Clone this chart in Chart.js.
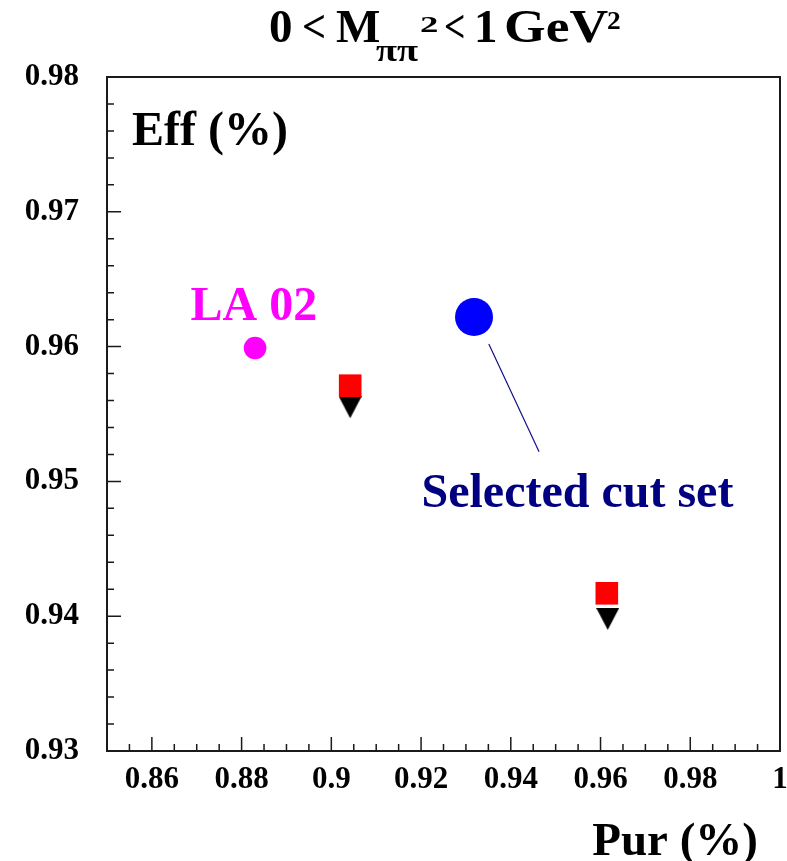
<!DOCTYPE html>
<html>
<head>
<meta charset="utf-8">
<script src="https://cdn.jsdelivr.net/npm/chart.js@4.4.0/dist/chart.umd.min.js"></script>
<style>
  html, body { margin: 0; padding: 0; background: #ffffff; }
  #wrap { width: 787px; height: 861px; }
</style>
</head>
<body>
<div id="wrap"><canvas id="chart" width="787" height="861"></canvas></div>
<script>
// Efficiency vs purity for the candidate cut sets
const la02Pur = [0.8830];
const la02Eff = [0.9599];
const selectedPur = [0.9318];
const selectedEff = [0.9622];
const squarePur = [0.9042, 0.9614];
const squareEff = [0.9571, 0.9417];
const trianglePur = [0.9042, 0.9616];
const triangleEff = [0.9555, 0.9398];
// pointer from the selected cut set to its label
const leaderPur = [0.9351, 0.9463];
const leaderEff = [0.9602, 0.9522];

const xTickValues = [0.86, 0.88, 0.90, 0.92, 0.94, 0.96, 0.98, 1.00];
const xTickLabels = ['0.86', '0.88', '0.9', '0.92', '0.94', '0.96', '0.98', '1'];
const yTickValues = [0.93, 0.94, 0.95, 0.96, 0.97, 0.98];
const yTickLabels = ['0.93', '0.94', '0.95', '0.96', '0.97', '0.98'];

const SERIF = '"Liberation Serif", "Times New Roman", serif';
const TICK_FONT = 'bold 31px ' + SERIF;

const pairs = (xs, ys) => xs.map((x, i) => ({ x, y: ys[i] }));

// downward black triangle marker
function triangleMarker() {
  const c = document.createElement('canvas');
  c.width = 23; c.height = 22;
  const g = c.getContext('2d');
  g.fillStyle = '#000000';
  g.beginPath();
  g.moveTo(0, 0);
  g.lineTo(23, 0);
  g.lineTo(11.5, 22);
  g.closePath();
  g.fill();
  return c;
}

// text drawn with a horizontal stretch factor
function stretchedText(ctx, text, x, y, sx) {
  ctx.save();
  ctx.translate(x, y);
  ctx.scale(sx, 1);
  ctx.fillText(text, 0, 0);
  ctx.restore();
}

const framePlugin = {
  id: 'frameAndText',
  afterDatasetsDraw(chart) {
    const { ctx, chartArea: a, scales } = chart;
    const xs = scales.x, ys = scales.y;
    ctx.save();
    // axis ticks, pointing inward
    ctx.strokeStyle = '#1a1a1a';
    ctx.lineWidth = 1.5;
    ctx.beginPath();
    for (let k = 0; k <= 30; k++) {
      const v = 0.85 + k * 0.005;
      const px = xs.getPixelForValue(v);
      const len = (k % 4 === 2) ? 14 : 7;
      ctx.moveTo(px, a.bottom);
      ctx.lineTo(px, a.bottom - len);
    }
    for (let k = 0; k <= 25; k++) {
      const v = 0.93 + k * 0.002;
      const py = ys.getPixelForValue(v);
      const len = (k % 5 === 0) ? 14 : 7;
      ctx.moveTo(a.left, py);
      ctx.lineTo(a.left + len, py);
    }
    ctx.stroke();
    // frame
    ctx.lineWidth = 2;
    ctx.strokeRect(a.left, a.top, a.right - a.left, a.bottom - a.top);

    // x tick labels
    ctx.fillStyle = '#000000';
    ctx.font = TICK_FONT;
    ctx.textAlign = 'center';
    ctx.textBaseline = 'middle';
    xTickValues.forEach((v, i) => {
      ctx.fillText(xTickLabels[i], xs.getPixelForValue(v), a.bottom + 29);
    });

    // annotations
    ctx.textBaseline = 'alphabetic';
    ctx.textAlign = 'left';
    ctx.font = 'bold 48px ' + SERIF;
    ctx.fillStyle = '#ff00ff';
    ctx.fillText('LA 02', xs.getPixelForValue(0.8686), ys.getPixelForValue(0.9620));
    ctx.fillStyle = '#000080';
    ctx.fillText('Selected cut set', xs.getPixelForValue(0.9201), ys.getPixelForValue(0.9481));

    // axis titles
    ctx.fillStyle = '#000000';
    ctx.fillText('Eff (%)', 132, 145);
    ctx.font = 'bold 47px ' + SERIF;
    ctx.textAlign = 'right';
    ctx.fillText('Pur (%)', 758, 855);

    // title: 0 < M_{ππ}^2 < 1 GeV^2
    ctx.textAlign = 'left';
    ctx.font = 'bold 47px ' + SERIF;
    ctx.fillText('0', 269, 42);
    stretchedText(ctx, '<', 302, 42, 0.9);
    ctx.fillText('M', 336, 42);
    stretchedText(ctx, '<', 444, 42, 0.8);
    ctx.fillText('1', 474, 42);
    stretchedText(ctx, 'GeV', 504, 42, 1.14);
    ctx.font = 'bold 32px ' + SERIF;
    stretchedText(ctx, '\u03c0\u03c0', 376, 61, 1.2);
    ctx.font = 'bold 23px ' + SERIF;
    stretchedText(ctx, '2', 420, 32, 1.6);
    ctx.font = 'bold 25px ' + SERIF;
    stretchedText(ctx, '2', 607, 29, 1.1);
    ctx.restore();
  }
};

new Chart(document.getElementById('chart'), {
  type: 'scatter',
  data: {
    datasets: [
      {
        label: 'leader',
        data: pairs(leaderPur, leaderEff),
        showLine: true,
        borderColor: '#10108a',
        borderWidth: 1.2,
        pointRadius: 0
      },
      {
        label: 'LA 02',
        data: pairs(la02Pur, la02Eff),
        pointStyle: 'circle',
        pointRadius: 11.3,
        backgroundColor: '#ff00ff',
        borderWidth: 0
      },
      {
        label: 'Selected cut set',
        data: pairs(selectedPur, selectedEff),
        pointStyle: 'circle',
        pointRadius: 19,
        backgroundColor: '#0000ff',
        borderWidth: 0
      },
      {
        label: 'squares',
        data: pairs(squarePur, squareEff),
        pointStyle: 'rect',
        pointRadius: 16,
        backgroundColor: '#ff0000',
        borderWidth: 0
      },
      {
        label: 'triangles',
        data: pairs(trianglePur, triangleEff),
        pointStyle: triangleMarker(),
        pointRadius: 12,
        backgroundColor: '#000000',
        borderWidth: 0
      }
    ]
  },
  options: {
    responsive: false,
    animation: false,
    events: [],
    devicePixelRatio: 1,
    layout: { autoPadding: false, padding: { top: 77, right: 7, bottom: 0, left: 0 } },
    plugins: {
      legend: { display: false },
      tooltip: { enabled: false },
      title: { display: false }
    },
    scales: {
      x: {
        type: 'linear',
        min: 0.85,
        max: 1.0,
        grid: { display: false, drawTicks: false },
        border: { display: false },
        afterBuildTicks: (s) => { s.ticks = xTickValues.map(v => ({ value: v })); },
        afterFit: (s) => { s.height = 110; s.paddingLeft = 0; s.paddingRight = 0; },
        ticks: { display: false }
      },
      y: {
        type: 'linear',
        min: 0.93,
        max: 0.98,
        grid: { display: false, drawTicks: false },
        border: { display: false },
        afterBuildTicks: (s) => { s.ticks = yTickValues.map(v => ({ value: v })); },
        afterFit: (s) => { s.width = 107; s.paddingTop = 0; s.paddingBottom = 0; },
        ticks: {
          color: '#000000',
          padding: 28,
          autoSkip: false,
          font: { family: SERIF, size: 31, weight: 'bold' },
          callback: (v, i) => yTickLabels[i]
        }
      }
    }
  },
  plugins: [framePlugin]
});
</script>
</body>
</html>
